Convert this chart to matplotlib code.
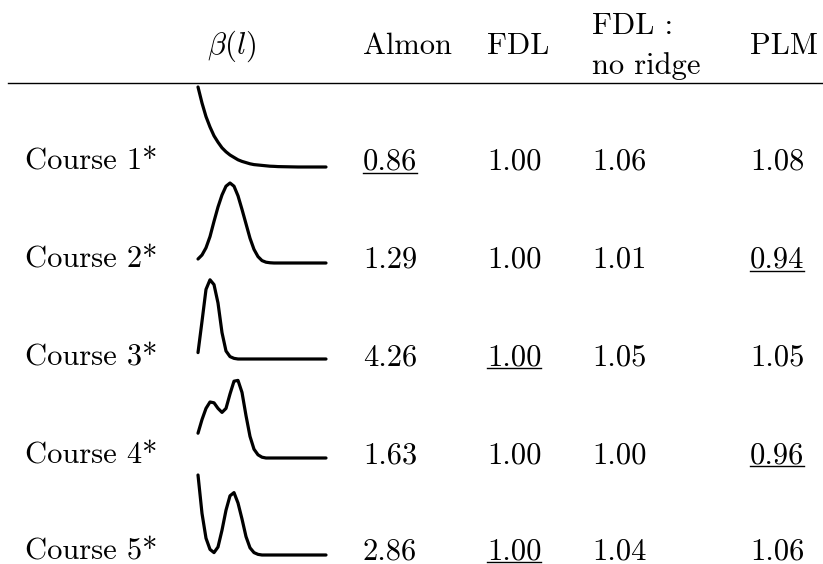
import matplotlib.pyplot as plt
import numpy as np

plt.rcParams['font.family'] = 'cmr10'
plt.rcParams['mathtext.fontset'] = 'cm'
plt.rcParams['axes.unicode_minus'] = False

# table contents
columns = ["Almon", "FDL", "FDL :\nno ridge", "PLM"]
rows = ["Course 1*", "Course 2*", "Course 3*", "Course 4*", "Course 5*"]
almon = ["0.86", "1.29", "4.26", "1.63", "2.86"]
fdl = ["1.00", "1.00", "1.00", "1.00", "1.00"]
fdl_noridge = ["1.06", "1.01", "1.05", "1.00", "1.04"]
plm = ["1.08", "0.94", "1.05", "0.96", "1.06"]
# (row, column) of the best value in each row -> underlined
best = [(0, 0), (1, 3), (2, 1), (3, 3), (4, 1)]

# beta(l) shapes (normalised height, 33 lags)
beta1 = [1.0, 0.80, 0.63, 0.50, 0.39, 0.31, 0.24, 0.19, 0.15, 0.12, 0.09, 0.07,
         0.055, 0.04, 0.03, 0.025, 0.02, 0.015, 0.01, 0.008, 0.005, 0.004, 0.003,
         0.002, 0.001, 0, 0, 0, 0, 0, 0, 0, 0]
beta2 = [0.05, 0.10, 0.19, 0.33, 0.52, 0.70, 0.85, 0.96, 1.0, 0.96, 0.84, 0.67,
         0.49, 0.31, 0.17, 0.08, 0.03, 0.01, 0.003, 0, 0, 0, 0, 0, 0, 0, 0, 0,
         0, 0, 0, 0, 0]
beta3 = [0.08, 0.47, 0.87, 0.99, 0.93, 0.70, 0.33, 0.10, 0.03, 0.008, 0, 0, 0,
         0, 0, 0, 0, 0, 0, 0, 0, 0, 0, 0, 0, 0, 0, 0, 0, 0, 0, 0, 0]
beta4 = [0.31, 0.48, 0.62, 0.70, 0.69, 0.62, 0.57, 0.62, 0.80, 0.96, 0.97, 0.82,
         0.53, 0.27, 0.11, 0.04, 0.01, 0, 0, 0, 0, 0, 0, 0, 0, 0, 0, 0, 0, 0,
         0, 0, 0]
beta5 = [1.0, 0.52, 0.21, 0.07, 0.03, 0.10, 0.31, 0.56, 0.74, 0.78, 0.65, 0.45,
         0.23, 0.09, 0.03, 0.008, 0, 0, 0, 0, 0, 0, 0, 0, 0, 0, 0, 0, 0, 0, 0,
         0, 0]
betas = [beta1, beta2, beta3, beta4, beta5]

W, H = 823, 564
fig = plt.figure(figsize=(W / 100, H / 100), dpi=100)
ax = fig.add_axes([0, 0, 1, 1])
ax.set_xlim(0, W)
ax.set_ylim(H, 0)
ax.axis('off')

fs = 22
col_x = [363, 487, 592, 750]
label_x = 25
row_base = [170, 268, 365, 463, 559]
curve_bottom = [167, 263, 359, 458, 555]
curve_x0, curve_w, curve_h = 198, 128, 80

# header
ax.text(207, 54, r'$\beta(l)$', fontsize=fs, va='baseline')
for cx, name in zip(col_x, columns):
    if "\n" in name:
        top, bot = name.split("\n")
        ax.text(cx, 34, top, fontsize=fs, va='baseline')
        ax.text(cx, 74, bot, fontsize=fs, va='baseline')
    else:
        ax.text(cx, 54, name, fontsize=fs, va='baseline')
ax.plot([8, W], [83, 83], color='black', lw=1.0)

# body
table = [almon, fdl, fdl_noridge, plm]
texts = {}
for i, (lab, yb) in enumerate(zip(rows, row_base)):
    ax.text(label_x, yb, lab, fontsize=fs, va='baseline')
    for j, cx in enumerate(col_x):
        texts[(i, j)] = ax.text(cx, yb, table[j][i], fontsize=fs, va='baseline')

    # small curve for beta(l)
    bottom = curve_bottom[i]
    cax = fig.add_axes([curve_x0 / W, 1 - bottom / H, curve_w / W, curve_h / H])
    lag = np.linspace(0, 1, len(betas[i]))
    cax.plot(lag, betas[i], color='black', lw=2.3, solid_capstyle='round',
             solid_joinstyle='round', clip_on=False)
    cax.set_xlim(0, 1)
    cax.set_ylim(0, 1)
    cax.axis('off')

# underline best values
fig.canvas.draw()
r = fig.canvas.get_renderer()
inv = ax.transData.inverted()
for (i, j) in best:
    bb = texts[(i, j)].get_window_extent(r)
    (x0, _), (x1, _) = inv.transform([[bb.x0, 0], [bb.x1, 0]])
    ax.plot([x0, x1], [row_base[i] + 3, row_base[i] + 3], color='black', lw=1.0)

fig.savefig('out.png', dpi=100)
